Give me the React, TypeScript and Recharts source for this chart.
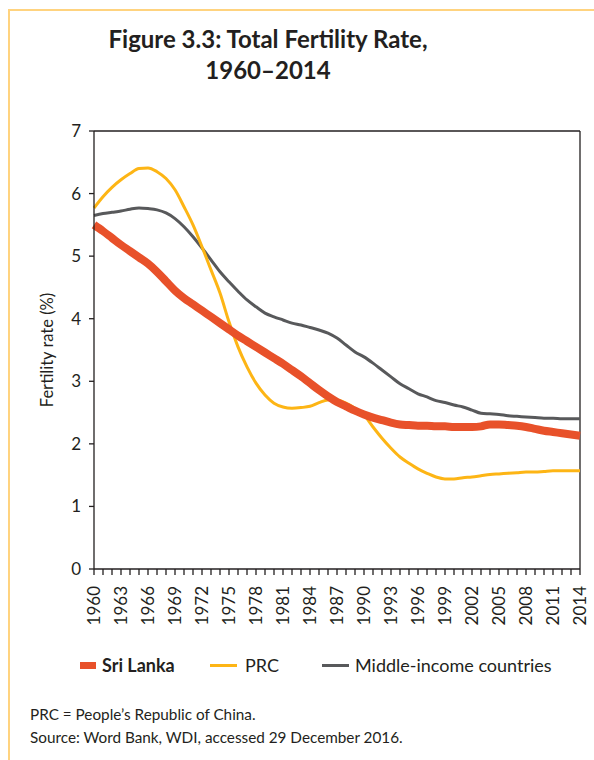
import React from 'react';
import { LineChart, Line, XAxis, YAxis, ReferenceLine } from 'recharts';

const years = [1960,1961,1962,1963,1964,1965,1966,1967,1968,1969,1970,1971,1972,1973,1974,1975,1976,1977,1978,1979,1980,1981,1982,1983,1984,1985,1986,1987,1988,1989,1990,1991,1992,1993,1994,1995,1996,1997,1998,1999,2000,2001,2002,2003,2004,2005,2006,2007,2008,2009,2010,2011,2012,2013,2014];
const labeledYears = [1960,1963,1966,1969,1972,1975,1978,1981,1984,1987,1990,1993,1996,1999,2002,2005,2008,2011,2014];
const yTicks = [0,1,2,3,4,5,6,7];

const sriLanka = [5.5,5.4,5.29,5.18,5.08,4.98,4.88,4.75,4.6,4.45,4.33,4.23,4.13,4.03,3.93,3.83,3.73,3.64,3.55,3.46,3.37,3.28,3.18,3.08,2.97,2.86,2.76,2.67,2.6,2.53,2.47,2.42,2.38,2.34,2.31,2.3,2.29,2.29,2.28,2.28,2.27,2.27,2.27,2.28,2.31,2.31,2.3,2.29,2.27,2.24,2.21,2.19,2.17,2.15,2.13];
const prc = [5.77,5.95,6.1,6.22,6.32,6.4,6.41,6.35,6.24,6.06,5.79,5.5,5.15,4.78,4.41,3.95,3.55,3.23,2.97,2.78,2.65,2.59,2.57,2.58,2.6,2.66,2.7,2.7,2.65,2.57,2.46,2.27,2.09,1.93,1.79,1.69,1.6,1.53,1.47,1.44,1.44,1.46,1.47,1.49,1.51,1.52,1.53,1.54,1.55,1.55,1.56,1.57,1.57,1.57,1.57];
const middleIncome = [5.65,5.68,5.7,5.72,5.75,5.77,5.76,5.74,5.69,5.6,5.47,5.31,5.13,4.94,4.75,4.59,4.44,4.3,4.19,4.09,4.03,3.98,3.93,3.9,3.86,3.82,3.77,3.69,3.58,3.47,3.39,3.29,3.18,3.07,2.96,2.88,2.8,2.75,2.69,2.66,2.62,2.59,2.54,2.49,2.48,2.47,2.45,2.44,2.43,2.42,2.41,2.41,2.4,2.4,2.4];

const seriesNames = ['Sri Lanka', 'PRC', 'Middle-income countries'];
const seriesColors = ['#E8512A', '#FDB515', '#58595B'];
const seriesWidths = [8, 3, 3];

const data = years.map((y, i) => ({ year: y, sl: sriLanka[i], prc: prc[i], mic: middleIncome[i] }));

const FONT = 'Lato, "Open Sans", sans-serif';
const INK = '#231F20';

const XTick = (props: any) => {
  const { x, y, payload } = props;
  if (!labeledYears.includes(payload.value)) return null;
  const ty = y + 9;
  return (
    <text x={x} y={ty} transform={`rotate(-90, ${x}, ${ty})`} textAnchor="end" dy="0.36em"
      fontFamily={FONT} fontSize={17} fill={INK}>{payload.value}</text>
  );
};

export default function App() {
  return (
    <div style={{ position: 'absolute', left: 0, top: 0, width: 594, height: 760, overflow: 'hidden', background: '#fff', fontFamily: FONT, color: INK }}>
      <div style={{ position: 'absolute', left: 8, top: 9, width: 700, height: 900, borderLeft: '2px solid #FFD37F', borderTop: '2px solid #FFD37F' }} />
      <div style={{ position: 'absolute', left: 0, top: 23, width: 536, textAlign: 'center', fontWeight: 700, fontSize: 24, lineHeight: '31px' }}>
        Figure 3.3: Total Fertility Rate,<br />1960–2014
      </div>
      <div style={{ position: 'absolute', left: 0, top: 0 }}>
        <LineChart width={594} height={640} data={data} margin={{ top: 131, right: 14, left: 0, bottom: 11 }}>
          <XAxis dataKey="year" type="number" domain={[1960, 2014]} ticks={years} interval={0}
            tick={<XTick />} tickSize={6} height={60} stroke={INK} strokeWidth={1.3} />
          <YAxis type="number" domain={[0, 7]} ticks={yTicks} width={94} tickSize={5} tickMargin={8}
            stroke={INK} strokeWidth={1.3} tick={{ fontFamily: FONT, fontSize: 17, fill: INK }} />
          <ReferenceLine y={7} stroke={INK} strokeWidth={1.3} />
          <ReferenceLine x={2014} stroke={INK} strokeWidth={1.3} />
          <Line type="monotone" dataKey="mic" stroke={seriesColors[2]} strokeWidth={seriesWidths[2]} dot={false} isAnimationActive={false} />
          <Line type="monotone" dataKey="prc" stroke={seriesColors[1]} strokeWidth={seriesWidths[1]} dot={false} isAnimationActive={false} />
          <Line type="monotone" dataKey="sl" stroke={seriesColors[0]} strokeWidth={seriesWidths[0]} dot={false} isAnimationActive={false} />
        </LineChart>
      </div>
      <div style={{ position: 'absolute', left: 47, top: 350, transform: 'translate(-50%, -50%) rotate(-90deg)', fontSize: 16.5, whiteSpace: 'nowrap' }}>
        Fertility rate (%)
      </div>
      <div style={{ position: 'absolute', left: 0, top: 654, width: 594, height: 22, fontSize: 18, lineHeight: '22px' }}>
        <span style={{ position: 'absolute', left: 80, top: 8, width: 16, height: 7, background: seriesColors[0] }} />
        <span style={{ position: 'absolute', left: 102, top: 0, fontWeight: 700, whiteSpace: 'nowrap' }}>{seriesNames[0]}</span>
        <span style={{ position: 'absolute', left: 210, top: 10, width: 27, height: 3, background: seriesColors[1] }} />
        <span style={{ position: 'absolute', left: 245, top: 0, whiteSpace: 'nowrap' }}>{seriesNames[1]}</span>
        <span style={{ position: 'absolute', left: 322, top: 10, width: 27, height: 3, background: seriesColors[2] }} />
        <span style={{ position: 'absolute', left: 355, top: 0, whiteSpace: 'nowrap' }}>{seriesNames[2]}</span>
      </div>
      <div style={{ position: 'absolute', left: 30, top: 703, fontSize: 15.3, lineHeight: '23px' }}>
        PRC = People’s Republic of China.<br />Source: Word Bank, WDI, accessed 29 December 2016.
      </div>
    </div>
  );
}
